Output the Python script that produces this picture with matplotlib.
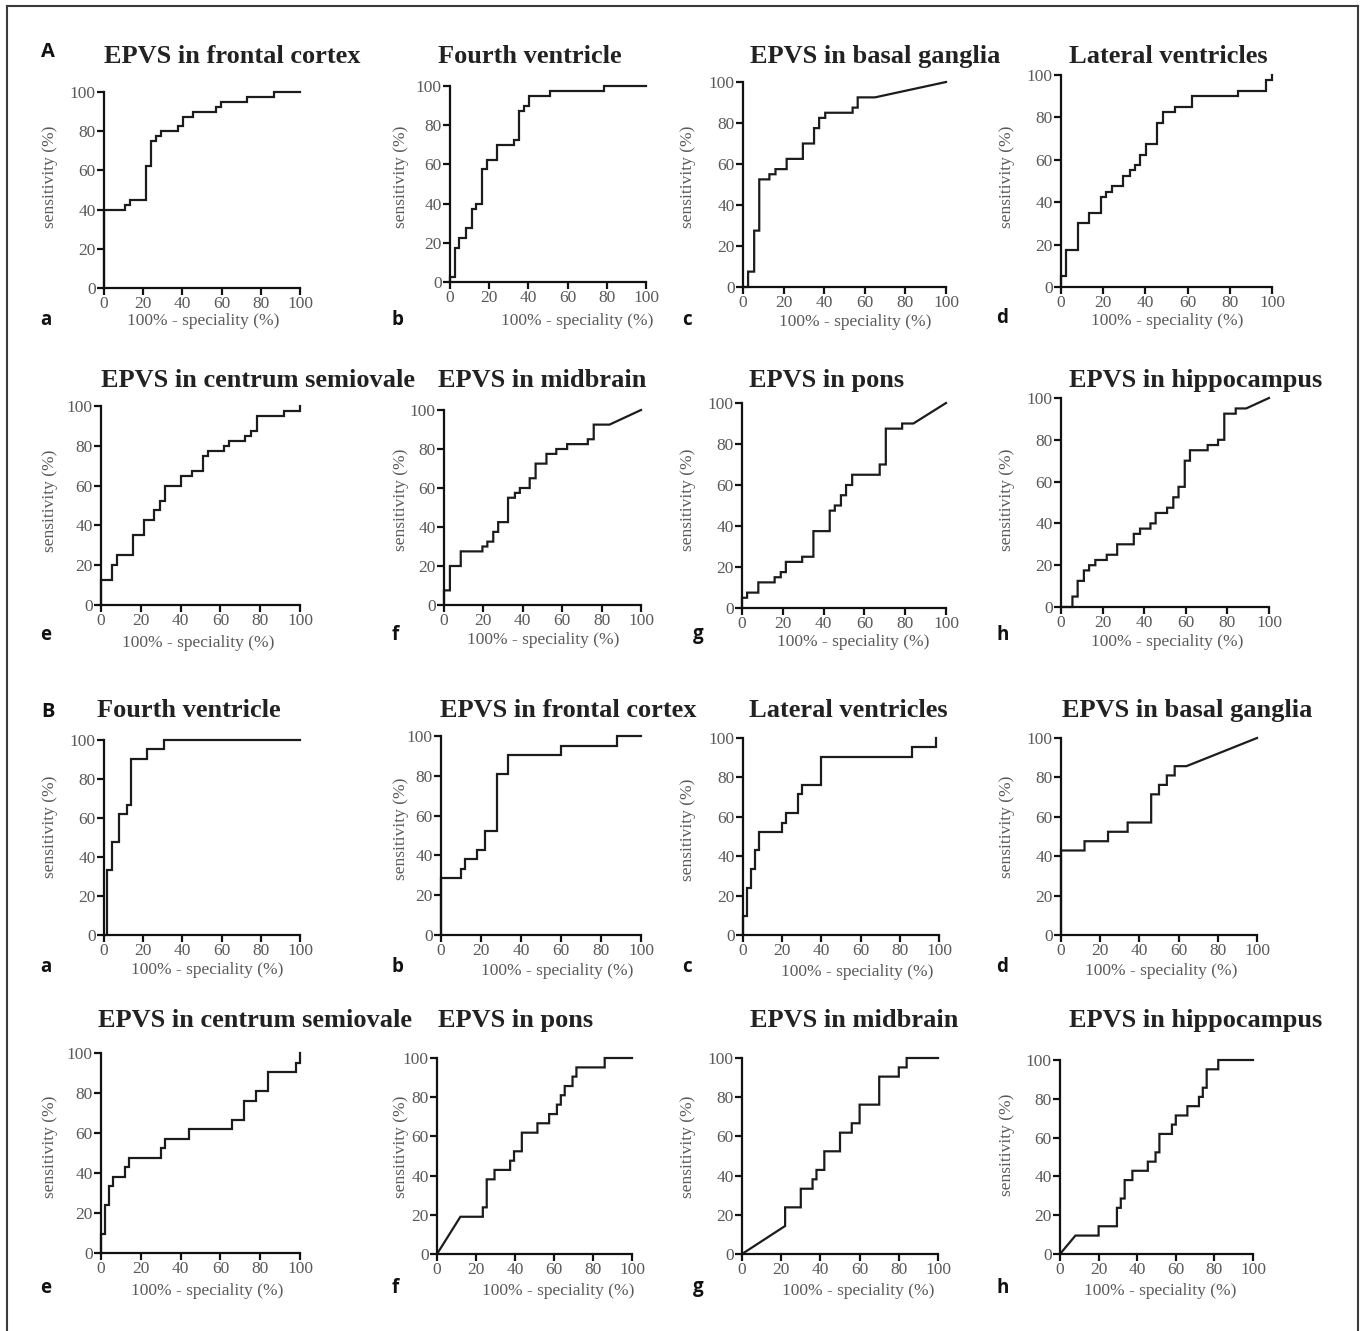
import matplotlib
matplotlib.use("Agg")
import matplotlib.pyplot as plt
from matplotlib.lines import Line2D

# ---------------- data (ROC vertices: 100% - specificity, sensitivity) ----------------
tick_values = [0, 20, 40, 60, 80, 100]
tick_labels = ["0", "20", "40", "60", "80", "100"]
xlabel_text = "100% - speciality (%)"
ylabel_text = "sensitivity (%)"

titles_A = ["EPVS in frontal cortex", "Fourth ventricle", "EPVS in basal ganglia", "Lateral ventricles",
            "EPVS in centrum semiovale", "EPVS in midbrain", "EPVS in pons", "EPVS in hippocampus"]
titles_B = ["Fourth ventricle", "EPVS in frontal cortex", "Lateral ventricles", "EPVS in basal ganglia",
            "EPVS in centrum semiovale", "EPVS in pons", "EPVS in midbrain", "EPVS in hippocampus"]
panel_letters = ["a", "b", "c", "d", "e", "f", "g", "h"]
group_letters = ["A", "B"]

# Group A
fpr_A_frontal = [0, 0, 10.5, 10.5, 13.5, 13.5, 21.5, 21.5, 24, 24, 26.5, 26.5, 29, 29, 37.5, 37.5, 40.5, 40.5,
                 45.5, 45.5, 57, 57, 59.5, 59.5, 73, 73, 86.5, 86.5, 100]
sens_A_frontal = [0, 40, 40, 42.5, 42.5, 45, 45, 62.5, 62.5, 75, 75, 77.5, 77.5, 80, 80, 82.5, 82.5, 87.5,
                  87.5, 90, 90, 92.5, 92.5, 95, 95, 97.5, 97.5, 100, 100]

fpr_A_fourth = [0, 0, 2.5, 2.5, 4.5, 4.5, 8, 8, 11, 11, 13.5, 13.5, 16.5, 16.5, 19, 19, 24, 24, 32.5, 32.5,
                35, 35, 37.5, 37.5, 40.5, 40.5, 51, 51, 78.5, 78.5, 100]
sens_A_fourth = [0, 2.5, 2.5, 17.5, 17.5, 22.5, 22.5, 27.5, 27.5, 37.5, 37.5, 40, 40, 57.5, 57.5, 62.5, 62.5,
                 70, 70, 72.5, 72.5, 87.5, 87.5, 90, 90, 95, 95, 97.5, 97.5, 100, 100]

fpr_A_basal = [0, 2.5, 2.5, 5.5, 5.5, 8, 8, 13, 13, 16, 16, 21.5, 21.5, 29.5, 29.5, 35, 35, 37.5, 37.5,
               40.5, 40.5, 54, 54, 56.5, 56.5, 65, 100]
sens_A_basal = [0, 0, 7.5, 7.5, 27.5, 27.5, 52.5, 52.5, 55, 55, 57.5, 57.5, 62.5, 62.5, 70, 70, 77.5, 77.5,
                82.5, 82.5, 85, 85, 87.5, 87.5, 92.5, 92.5, 100]

fpr_A_lateral = [0, 0, 2.5, 2.5, 8, 8, 13.5, 13.5, 19, 19, 21.5, 21.5, 24, 24, 29.5, 29.5, 32.5, 32.5, 35, 35,
                 37.5, 37.5, 40.5, 40.5, 45.5, 45.5, 48.5, 48.5, 54, 54, 62, 62, 84, 84, 97, 97, 100, 100]
sens_A_lateral = [0, 5, 5, 17.5, 17.5, 30, 30, 35, 35, 42.5, 42.5, 45, 45, 47.5, 47.5, 52.5, 52.5, 55, 55,
                  57.5, 57.5, 62.5, 62.5, 67.5, 67.5, 77.5, 77.5, 82.5, 82.5, 85, 85, 90, 90, 92.5, 92.5,
                  97.5, 97.5, 100]

fpr_A_centrum = [0, 0, 5.5, 5.5, 8, 8, 16, 16, 21.5, 21.5, 26.5, 26.5, 29.5, 29.5, 32, 32, 40, 40, 45.5, 45.5,
                 51.5, 51.5, 54, 54, 62, 62, 64.5, 64.5, 72.5, 72.5, 75.5, 75.5, 78.5, 78.5, 92, 92, 100, 100]
sens_A_centrum = [0, 12.5, 12.5, 20, 20, 25, 25, 35, 35, 42.5, 42.5, 47.5, 47.5, 52.5, 52.5, 60, 60, 65, 65,
                  67.5, 67.5, 75, 75, 77.5, 77.5, 80, 80, 82.5, 82.5, 85, 85, 87.5, 87.5, 95, 95, 97.5,
                  97.5, 100]

fpr_A_midbrain = [0, 0, 3, 3, 8.5, 8.5, 19.5, 19.5, 22, 22, 25, 25, 27.5, 27.5, 32.5, 32.5, 36, 36, 38.5, 38.5,
                  43.5, 43.5, 46.5, 46.5, 52, 52, 57, 57, 62.5, 62.5, 73, 73, 76, 76, 84, 100]
sens_A_midbrain = [0, 7.5, 7.5, 20, 20, 27.5, 27.5, 30, 30, 32.5, 32.5, 37.5, 37.5, 42.5, 42.5, 55, 55, 57.5,
                   57.5, 60, 60, 65, 65, 72.5, 72.5, 77.5, 77.5, 80, 80, 82.5, 82.5, 85, 85, 92.5, 92.5, 100]

fpr_A_pons = [0, 0, 2.5, 2.5, 8, 8, 16, 16, 19, 19, 21.5, 21.5, 29.5, 29.5, 35, 35, 43, 43, 45.5, 45.5,
              48.5, 48.5, 51, 51, 54, 54, 67.5, 67.5, 70.5, 70.5, 78.5, 78.5, 84, 100]
sens_A_pons = [0, 5, 5, 7.5, 7.5, 12.5, 12.5, 15, 15, 17.5, 17.5, 22.5, 22.5, 25, 25, 37.5, 37.5, 47.5, 47.5,
               50, 50, 55, 55, 60, 60, 65, 65, 70, 70, 87.5, 87.5, 90, 90, 100]

fpr_A_hippo = [0, 5.5, 5.5, 8, 8, 11, 11, 13.5, 13.5, 16.5, 16.5, 22, 22, 27, 27, 35, 35, 38, 38, 43, 43,
               45.5, 45.5, 51, 51, 54, 54, 56.5, 56.5, 59.5, 59.5, 62, 62, 70.5, 70.5, 75.5, 75.5, 78.5, 78.5,
               84, 84, 89, 100]
sens_A_hippo = [0, 0, 5, 5, 12.5, 12.5, 17.5, 17.5, 20, 20, 22.5, 22.5, 25, 25, 30, 30, 35, 35, 37.5, 37.5,
                40, 40, 45, 45, 47.5, 47.5, 52.5, 52.5, 57.5, 57.5, 70, 70, 75, 75, 77.5, 77.5, 80, 80, 92.5,
                92.5, 95, 95, 100]

# Group B
fpr_B_fourth = [0, 1.5, 1.5, 4, 4, 7.5, 7.5, 11.5, 11.5, 14, 14, 22, 22, 30.5, 30.5, 100]
sens_B_fourth = [0, 0, 33.3, 33.3, 47.6, 47.6, 61.9, 61.9, 66.7, 66.7, 90.5, 90.5, 95.2, 95.2, 100, 100]

fpr_B_frontal = [0, 0, 10, 10, 12, 12, 18, 18, 22, 22, 28, 28, 33.5, 33.5, 60, 60, 88, 88, 100]
sens_B_frontal = [0, 28.6, 28.6, 33.3, 33.3, 38.1, 38.1, 42.9, 42.9, 52.4, 52.4, 81, 81, 90.5, 90.5, 95.2,
                  95.2, 100, 100]

fpr_B_lateral = [0, 0, 2, 2, 4, 4, 6, 6, 8, 8, 20, 20, 22, 22, 28, 28, 30, 30, 40, 40, 86, 86, 98.5, 98.5]
sens_B_lateral = [0, 9.5, 9.5, 23.8, 23.8, 33.3, 33.3, 42.9, 42.9, 52.4, 52.4, 57.1, 57.1, 61.9, 61.9, 71.4,
                  71.4, 76.2, 76.2, 90.5, 90.5, 95.2, 95.2, 100]

fpr_B_basal = [0, 0, 12, 12, 24, 24, 34, 34, 46, 46, 50, 50, 54, 54, 58, 58, 64, 100]
sens_B_basal = [0, 42.9, 42.9, 47.6, 47.6, 52.4, 52.4, 57.1, 57.1, 71.4, 71.4, 76.2, 76.2, 81, 81, 85.7,
                85.7, 100]

fpr_B_centrum = [0, 0, 2, 2, 4, 4, 6, 6, 12, 12, 14, 14, 30, 30, 32, 32, 44, 44, 66, 66, 72, 72, 78, 78,
                 84, 84, 98, 98, 100, 100]
sens_B_centrum = [0, 9.5, 9.5, 23.8, 23.8, 33.3, 33.3, 38.1, 38.1, 42.9, 42.9, 47.6, 47.6, 52.4, 52.4, 57.1,
                  57.1, 61.9, 61.9, 66.7, 66.7, 76.2, 76.2, 81, 81, 90.5, 90.5, 95.2, 95.2, 100]

fpr_B_pons = [0, 12, 23.5, 23.5, 25.5, 25.5, 29.5, 29.5, 37.5, 37.5, 39.5, 39.5, 43.5, 43.5, 51.5, 51.5,
              57.5, 57.5, 61.5, 61.5, 63.5, 63.5, 65.5, 65.5, 69.5, 69.5, 71.5, 71.5, 86, 86, 100]
sens_B_pons = [0, 19, 19, 23.8, 23.8, 38.1, 38.1, 42.9, 42.9, 47.6, 47.6, 52.4, 52.4, 61.9, 61.9, 66.7, 66.7,
               71.4, 71.4, 76.2, 76.2, 81, 81, 85.7, 85.7, 90.5, 90.5, 95.2, 95.2, 100, 100]

fpr_B_midbrain = [0, 22, 22, 30, 30, 36, 36, 38, 38, 42, 42, 50, 50, 56, 56, 60, 60, 70, 70, 80, 80, 84, 84, 100]
sens_B_midbrain = [0, 14.3, 23.8, 23.8, 33.3, 33.3, 38.1, 38.1, 42.9, 42.9, 52.4, 52.4, 61.9, 61.9, 66.7,
                   66.7, 76.2, 76.2, 90.5, 90.5, 95.2, 95.2, 100, 100]

fpr_B_hippo = [0, 8, 20, 20, 29.5, 29.5, 31.5, 31.5, 33.5, 33.5, 37.5, 37.5, 45.5, 45.5, 49.5, 49.5, 51.5,
               51.5, 58, 58, 60, 60, 66, 66, 72, 72, 74, 74, 76, 76, 82, 82, 100]
sens_B_hippo = [0, 9.5, 9.5, 14.3, 14.3, 23.8, 23.8, 28.6, 28.6, 38.1, 38.1, 42.9, 42.9, 47.6, 47.6, 52.4,
                52.4, 61.9, 61.9, 66.7, 66.7, 71.4, 71.4, 76.2, 76.2, 81, 81, 85.7, 85.7, 95.2, 95.2, 100, 100]

curves = [
    (fpr_A_frontal, sens_A_frontal), (fpr_A_fourth, sens_A_fourth), (fpr_A_basal, sens_A_basal),
    (fpr_A_lateral, sens_A_lateral), (fpr_A_centrum, sens_A_centrum), (fpr_A_midbrain, sens_A_midbrain),
    (fpr_A_pons, sens_A_pons), (fpr_A_hippo, sens_A_hippo),
    (fpr_B_fourth, sens_B_fourth), (fpr_B_frontal, sens_B_frontal), (fpr_B_lateral, sens_B_lateral),
    (fpr_B_basal, sens_B_basal), (fpr_B_centrum, sens_B_centrum), (fpr_B_pons, sens_B_pons),
    (fpr_B_midbrain, sens_B_midbrain), (fpr_B_hippo, sens_B_hippo),
]
all_titles = titles_A + titles_B

# ---------------- layout (pixel coordinates of the 1365x1331 canvas) ----------------
W, H = 1365, 1331
# axes boxes: (x at 0, x at 100, y at 0, y at 100)
boxes = [
    (104, 300, 288, 92), (450, 646, 282, 86), (743, 946, 287, 82), (1061, 1272, 287, 75),
    (101, 300, 605, 406), (444, 641, 605, 410), (742, 946, 608, 403), (1061, 1269, 607, 398),
    (104, 300, 935, 740), (441, 641, 935, 736), (743, 939, 935, 738), (1061, 1257, 935, 738),
    (101, 300, 1253, 1053), (437, 632, 1254, 1058), (742, 938, 1254, 1058), (1060, 1253, 1254, 1060),
]
title_pos = [
    (232, 63), (530, 63), (875, 63), (1168, 63),
    (258, 387), (542, 387), (827, 387), (1196, 387),
    (189, 717), (568, 717), (848, 717), (1187, 717),
    (255, 1027), (516, 1027), (854, 1027), (1196, 1027),
]
xlabel_pos = [
    (203, 321), (577, 321), (855, 322), (1167, 321),
    (198, 643), (543, 640), (853, 642), (1167, 642),
    (207, 970), (557, 971), (857, 972), (1161, 971),
    (207, 1291), (558, 1291), (858, 1291), (1160, 1291),
]
ylabel_pos = [
    (50, 177), (401, 177), (688, 177), (1007, 177),
    (50, 501), (401, 500), (688, 500), (1007, 500),
    (50, 827), (401, 829), (688, 830), (1007, 827),
    (50, 1147), (401, 1147), (688, 1147), (1007, 1145),
]
letter_pos = [
    (40, 325), (392, 325), (682, 325), (996, 323),
    (40, 640), (392, 640), (693, 639), (996, 640),
    (40, 972), (392, 972), (682, 972), (996, 972),
    (40, 1293), (392, 1293), (693, 1292), (996, 1293),
]
group_pos = [(41, 57), (41, 717)]

SERIF = "Liberation Serif"
SANS = ["Open Sans", "DejaVu Sans"]
GRAY = "#5a5a5a"

fig = plt.figure(figsize=(W / 100, H / 100), dpi=100)
fig.patch.set_facecolor("white")


def fx(px):
    return px / W


def fy(py):
    return 1 - py / H


for i, ((fpr, sens), box) in enumerate(zip(curves, boxes)):
    x0, x1, y0, y1 = box
    ax = fig.add_axes([fx(x0), fy(y0), (x1 - x0) / W, (y0 - y1) / H])
    ax.plot(fpr, sens, color="#1c1c1c", lw=1.6, clip_on=False, solid_joinstyle="miter")
    ax.set_xlim(0, 100)
    ax.set_ylim(0, 100)
    for s in ("top", "right"):
        ax.spines[s].set_visible(False)
    for s in ("left", "bottom"):
        ax.spines[s].set_linewidth(1.6)
        ax.spines[s].set_color("#111111")
    ax.set_xticks(tick_values)
    ax.set_xticklabels(tick_labels)
    ax.set_yticks(tick_values)
    ax.set_yticklabels(tick_labels)
    ax.tick_params(direction="out", length=5, width=1.6, color="#111111", labelcolor=GRAY,
                   labelsize=12.5, pad=1)
    for lab in ax.get_xticklabels() + ax.get_yticklabels():
        lab.set_fontfamily(SERIF)
    ax.patch.set_alpha(0)

    ax.set_xlabel(xlabel_text, fontfamily=SERIF, fontsize=12.5, color=GRAY, va="center")
    ax.xaxis.set_label_coords(fx(xlabel_pos[i][0]), fy(xlabel_pos[i][1]), transform=fig.transFigure)
    ax.set_ylabel(ylabel_text, fontfamily=SERIF, fontsize=12.5, color=GRAY, va="center")
    ax.yaxis.set_label_coords(fx(ylabel_pos[i][0]), fy(ylabel_pos[i][1]), transform=fig.transFigure)

    fig.text(fx(title_pos[i][0]), fy(title_pos[i][1]), all_titles[i], fontfamily=SERIF,
             fontweight="bold", fontsize=19, color="#222222", ha="center", va="baseline")
    fig.text(fx(letter_pos[i][0]), fy(letter_pos[i][1]), panel_letters[i % 8], family=SANS,
             fontweight="bold", fontsize=13.5, color="#111111", ha="left", va="baseline")

for g, (gx, gy) in zip(group_letters, group_pos):
    fig.text(fx(gx), fy(gy), g, family=SANS, fontweight="bold", fontsize=14.5, color="#111111",
             ha="left", va="baseline")

# outer frame (left, top, right)
frame_kw = dict(color="#3a3a3a", lw=1.5, transform=fig.transFigure)
fig.add_artist(Line2D([fx(6.5), fx(6.5)], [fy(6), 0], **frame_kw))
fig.add_artist(Line2D([fx(6.5), fx(1358)], [fy(6), fy(6)], **frame_kw))
fig.add_artist(Line2D([fx(1358), fx(1358)], [fy(6), 0], **frame_kw))

fig.savefig("out.png", dpi=100, facecolor="white")
